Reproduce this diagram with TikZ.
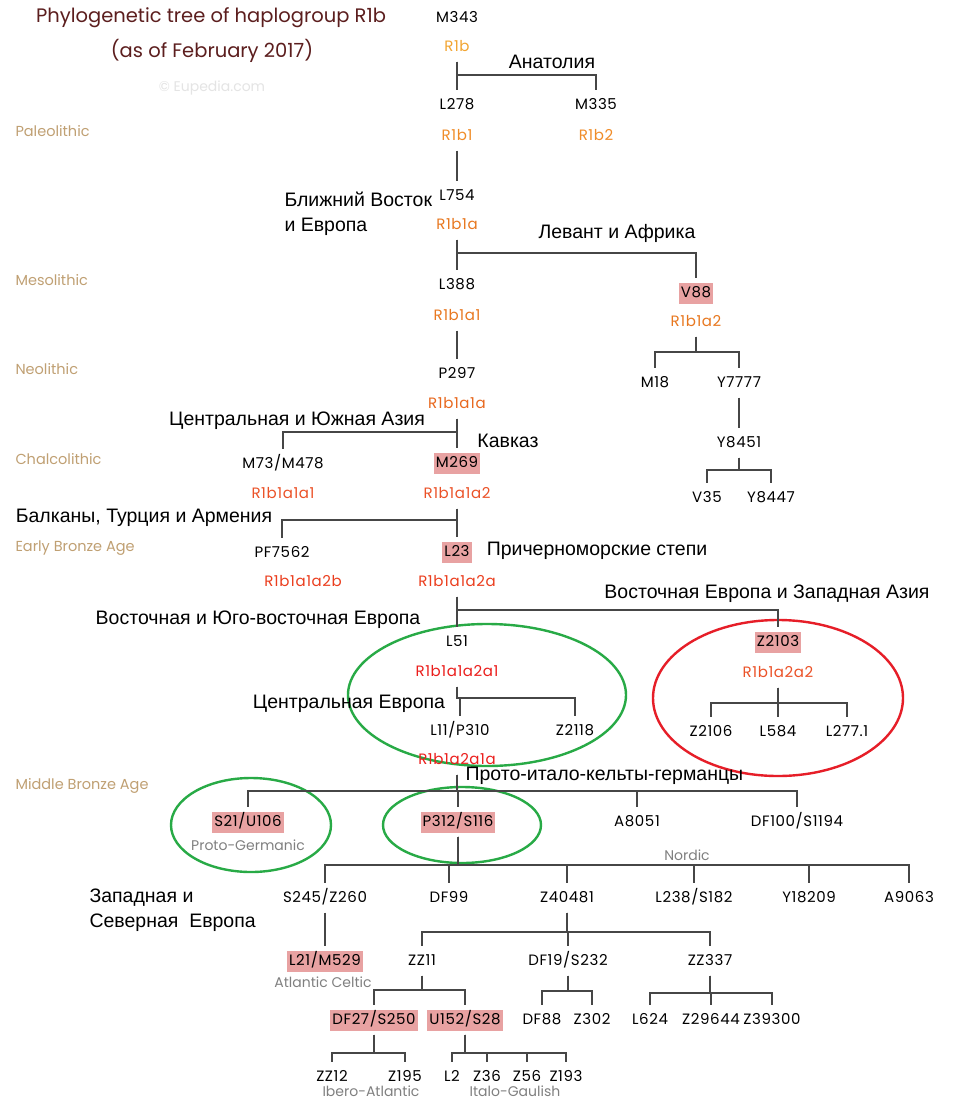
\documentclass[tikz,border=0pt]{standalone}
\usepackage{fontspec}
\setmainfont{Poppins}
\newfontfamily\lblfont[Numbers=Monospaced, LetterSpace=4]{Poppins}
\newfontfamily\rufont{Liberation Sans}

\definecolor{linegray}{RGB}{70,70,70}
\definecolor{pinkhl}{RGB}{232,162,162}
\definecolor{titlered}{RGB}{92,30,30}
\definecolor{eratan}{RGB}{192,160,115}
\definecolor{notegray}{RGB}{128,128,128}
\definecolor{markgray}{RGB}{228,228,228}
\definecolor{ringgreen}{RGB}{40,170,70}
\definecolor{ringred}{RGB}{230,30,40}
% clade label colours, from orange to red
\definecolor{cA}{RGB}{242,165,50}
\definecolor{cB}{RGB}{240,140,40}
\definecolor{cC}{RGB}{232,120,32}
\definecolor{cD}{RGB}{232,104,30}
\definecolor{cE}{RGB}{235,82,40}
\definecolor{cF}{RGB}{235,62,30}
\definecolor{cG}{RGB}{235,30,28}

\tikzset{
  snp/.style={font=\lblfont\fontsize{15}{18}\selectfont, text=black, inner xsep=2pt, inner ysep=4pt, text height=11pt, text depth=2pt},
  hl/.style={snp, fill=pinkhl},
  clade/.style={snp, text=#1},
  region/.style={font=\rufont\fontsize{19.5}{25}\selectfont, text=black},
  era/.style={anchor=west, font=\fontsize{14.5}{17}\selectfont, text=eratan},
  note/.style={font=\fontsize{14}{16}\selectfont, text=notegray},
  tree/.style={draw=linegray, line width=1.6pt, shorten <=4pt, shorten >=4pt},
  ring/.style={line width=2.4pt},
}

\begin{document}
\begin{tikzpicture}[x=1pt,y=-1pt]
\fill[white] (0,0) rectangle (960,1100);
\useasboundingbox (0,0) rectangle (960,1100);

% Title
\node[font=\fontsize{19.5}{22}\selectfont, text=titlered] (title) at (211,18) {Phylogenetic tree of haplogroup R1b};
\node[font=\fontsize{19.5}{22}\selectfont, text=titlered] (subtitle) at (212,51) {(as of February 2017)};
\node[font=\fontsize{14}{16}\selectfont, text=markgray] (mark) at (212,88) {\textcopyright{} Eupedia.com};

% Periods
\node[era] (paleo) at (12,131) {Paleolithic};
\node[era] (meso) at (12,280) {Mesolithic};
\node[era] (neo) at (12,369) {Neolithic};
\node[era] (chalco) at (12,459) {Chalcolithic};
\node[era] (eba) at (12,548) {Early Bronze Age};
\node[era] (mba) at (12,786) {Middle Bronze Age};

% Rings
\draw[ring, ringgreen] (487,695) ellipse (139 and 71);
\draw[ring, ringred] (778,698) ellipse (125 and 78);
\draw[ring, ringgreen] (251,825) ellipse (80 and 47);
\draw[ring, ringgreen] (462,825) ellipse (79 and 38);

% Upper tree
\node[snp] (m343) at (457,18) {M343};
\node[clade=cA] (R1b) at (457,47) {R1b};
\node[snp] (l278) at (457,105) {L278};
\node[snp] (m335) at (596,105) {M335};
\node[clade=cB] (R1b1) at (457,136) {R1b1};
\node[clade=cB] (R1b2) at (596,136) {R1b2};
\node[snp] (l754) at (457,196) {L754};
\node[clade=cC] (R1b1a) at (457,225) {R1b1a};
\node[snp] (l388) at (457,285) {L388};
\node[clade=cC] (R1b1a1) at (457,316) {R1b1a1};
\node[hl] (v88) at (696,293) {V88};
\node[clade=cC] (R1b1a2) at (696,322) {R1b1a2};
\node[snp] (m18) at (655,383) {M18};
\node[snp] (y7777) at (739,383) {Y7777};
\node[snp] (y8451) at (739,443) {Y8451};
\node[snp] (v35) at (707,498) {V35};
\node[snp] (y8447) at (771,498) {Y8447};
\node[snp] (p297) at (457,374) {P297};
\node[clade=cD] (R1b1a1a) at (457,404) {R1b1a1a};
\node[snp] (m73) at (283,464) {M73/M478};
\node[hl] (m269) at (457,463) {M269};
\node[clade=cE] (R1b1a1a1) at (283,494) {R1b1a1a1};
\node[clade=cE] (R1b1a1a2) at (457,494) {R1b1a1a2};
\node[snp] (pf7562) at (282,553) {PF7562};
\node[hl] (l23) at (457,552) {L23};
\node[clade=cF] (R1b1a1a2b) at (303,582) {R1b1a1a2b};
\node[clade=cF] (R1b1a1a2a) at (457,582) {R1b1a1a2a};
\node[snp] (l51) at (457,642) {L51};
\node[hl] (z2103) at (778,642) {Z2103};
\node[clade=cG] (R1b1a1a2a1) at (457,672) {R1b1a1a2a1};
\node[clade=cE] (R1b1a2a2) at (778,673) {R1b1a2a2};
\node[snp] (l11) at (460,731) {L11/P310};
\node[snp] (z2118) at (575,731) {Z2118};
\node[snp] (z2106) at (711,732) {Z2106};
\node[snp] (l584) at (778,732) {L584};
\node[snp] (l2771) at (847,732) {L277.1};
\node[clade=cG] (R1b1a2a1a) at (457,760) {R1b1a2a1a};

% Lower tree
\node[hl] (s21) at (248,822) {S21/U106};
\node[hl] (p312) at (458,822) {P312/S116};
\node[snp] (a8051) at (637,822) {A8051};
\node[snp] (df100) at (797,822) {DF100/S1194};
\node[snp] (s245) at (325,898) {S245/Z260};
\node[snp] (df99) at (449,898) {DF99};
\node[snp] (z40481) at (567,898) {Z40481};
\node[snp] (l238) at (694,898) {L238/S182};
\node[snp] (y18209) at (809,898) {Y18209};
\node[snp] (a9063) at (909,898) {A9063};
\node[hl] (l21) at (325,961) {L21/M529};
\node[snp] (zz11) at (422,961) {ZZ11};
\node[snp] (df19) at (568,961) {DF19/S232};
\node[snp] (zz337) at (710,961) {ZZ337};
\node[hl] (df27) at (374,1020) {DF27/S250};
\node[hl] (u152) at (465,1020) {U152/S28};
\node[snp] (df88) at (542,1020) {DF88};
\node[snp] (z302) at (592,1020) {Z302};
\node[snp] (l624) at (650,1020) {L624};
\node[snp] (z29644) at (711,1020) {Z29644};
\node[snp] (z39300) at (772,1020) {Z39300};
\node[snp] (zz12) at (332,1077) {ZZ12};
\node[snp] (z195) at (405,1077) {Z195};
\node[snp] (l2) at (452,1077) {L2};
\node[snp] (z36) at (487,1077) {Z36};
\node[snp] (z56) at (527,1077) {Z56};
\node[snp] (z193) at (566,1077) {Z193};

% Population names
\node[note] (protogerm) at (248,845) {Proto-Germanic};
\node[note] (nordic) at (687,855) {Nordic};
\node[note] (atlceltic) at (323,982) {Atlantic Celtic};
\node[note] (iberoatl) at (371,1091) {Ibero-Atlantic};
\node[note] (italogaul) at (515,1091) {Italo-Gaulish};

% Regions
\node[region] (anatolia) at (552,62) {Анатолия};
\node[region, anchor=west, align=left] (neareast) at (281,214) {Ближний Восток\\и Европа};
\node[region] (levant) at (617,233) {Левант и Африка};
\node[region] (casia) at (297,421) {Центральная и Южная Азия};
\node[region] (caucasus) at (508,441) {Кавказ};
\node[region] (balkans) at (144,518) {Балканы, Турция и Армения};
\node[region] (steppe) at (597,551) {Причерноморские степи};
\node[region] (eeurope) at (767,594) {Восточная Европа и Западная Азия};
\node[region] (seeurope) at (258,620) {Восточная и Юго-восточная Европа};
\node[region] (ceurope) at (349,704) {Центральная Европа};
\node[region, anchor=west] (protoicg) at (462,776) {Прото-итало-кельты-германцы};
\node[region, anchor=west, align=left] (nweurope) at (86,910) {Западная и\\Северная\ \ Европа};

% Branches
\foreach \c in {l278,m335}
  \draw[tree] (R1b.south) -- (R1b.south |- 0,75) -| (\c.north);
\draw[tree] (R1b1.south) -- (l754.north);
\foreach \c in {l388,v88}
  \draw[tree] (R1b1a.south) -- (R1b1a.south |- 0,253) -| (\c.north);
\draw[tree] (R1b1a1.south) -- (p297.north);
\foreach \c in {m18,y7777}
  \draw[tree] (R1b1a2.south) -- (R1b1a2.south |- 0,352) -| (\c.north);
\draw[tree] (y7777.south) -- (y8451.north);
\foreach \c in {v35,y8447}
  \draw[tree] (y8451.south) -- (y8451.south |- 0,470) -| (\c.north);
\foreach \c in {m73,m269}
  \draw[tree] (R1b1a1a.south) -- (R1b1a1a.south |- 0,432) -| (\c.north);
\foreach \c in {pf7562,l23}
  \draw[tree] (R1b1a1a2.south) -- (R1b1a1a2.south |- 0,520) -| (\c.north);
\foreach \c in {l51,z2103}
  \draw[tree] (R1b1a1a2a.south) -- (R1b1a1a2a.south |- 0,610) -| (\c.north);
\foreach \c in {l11,z2118}
  \draw[tree] (R1b1a1a2a1.south) -- (R1b1a1a2a1.south |- 0,698) -| (\c.north);
\foreach \c in {z2106,l584,l2771}
  \draw[tree] (R1b1a2a2.south) -- (R1b1a2a2.south |- 0,703) -| (\c.north);
\foreach \c in {s21,p312,a8051,df100}
  \draw[tree] (R1b1a2a1a.south) -- (R1b1a2a1a.south |- 0,791) -| (\c.north);
\foreach \c in {s245,df99,z40481,l238,y18209,a9063}
  \draw[tree] (p312.south) -- (p312.south |- 0,865) -| (\c.north);
\draw[tree] (s245.south) -- (l21.north);
\foreach \c in {zz11,df19,zz337}
  \draw[tree] (z40481.south) -- (z40481.south |- 0,932) -| (\c.north);
\foreach \c in {df27,u152}
  \draw[tree] (zz11.south) -- (zz11.south |- 0,990) -| (\c.north);
\foreach \c in {df88,z302}
  \draw[tree] (df19.south) -- (df19.south |- 0,991) -| (\c.north);
\foreach \c in {l624,z29644,z39300}
  \draw[tree] (zz337.south) -- (zz337.south |- 0,993) -| (\c.north);
\foreach \c in {zz12,z195}
  \draw[tree] (df27.south) -- (df27.south |- 0,1053) -| (\c.north);
\foreach \c in {l2,z36,z56,z193}
  \draw[tree] (u152.south) -- (u152.south |- 0,1053) -| (\c.north);

\end{tikzpicture}
\end{document}
